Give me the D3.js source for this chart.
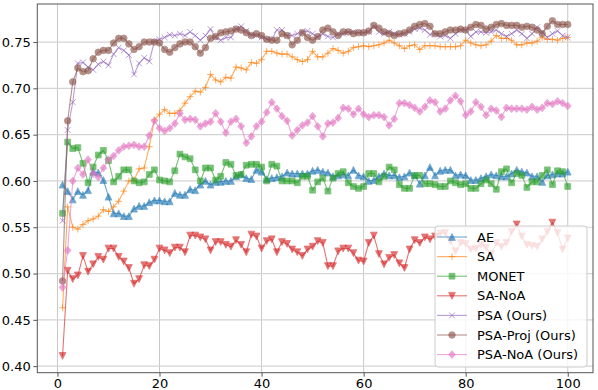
<!DOCTYPE html>
<html><head><meta charset="utf-8">
<script src="https://cdn.jsdelivr.net/npm/d3@7"></script>
<style>
body{margin:0;background:#fff}
svg{display:block}
text{font-family:"DejaVu Sans",sans-serif;fill:#000}
</style>
</head><body>
<svg id="chart" width="598" height="390"></svg>
<script>
const epochs = d3.range(1, 101);
const seriesNames = ["AE", "SA", "MONET", "SA-NoA", "PSA (Ours)", "PSA-Proj (Ours)", "PSA-NoA (Ours)"];
const seriesColors = ["#1f77b4", "#ff7f0e", "#2ca02c", "#d62728", "#9467bd", "#8c564b", "#e377c2"];
const seriesMarkers = ["tri-up", "plus", "square", "tri-down", "x", "circle", "diamond"];

const AE = [0.596,0.589,0.580,0.589,0.585,0.590,0.610,0.609,0.601,0.583,0.565,0.565,0.562,0.562,0.570,0.573,0.573,0.577,0.579,0.579,
0.578,0.578,0.587,0.585,0.585,0.591,0.590,0.596,0.600,0.596,0.599,0.599,0.600,0.600,0.605,0.607,0.603,0.602,0.612,0.610,
0.602,0.603,0.604,0.605,0.609,0.608,0.608,0.608,0.608,0.611,0.612,0.610,0.609,0.605,0.606,0.607,0.606,0.612,0.606,0.605,
0.600,0.601,0.605,0.608,0.606,0.606,0.604,0.605,0.609,0.606,0.597,0.606,0.615,0.606,0.611,0.612,0.612,0.606,0.607,0.606,
0.601,0.601,0.603,0.605,0.607,0.606,0.605,0.605,0.608,0.612,0.610,0.609,0.605,0.605,0.599,0.606,0.607,0.608,0.608,0.610];

const SA = [0.463,0.572,0.550,0.548,0.553,0.557,0.559,0.562,0.569,0.567,0.572,0.578,0.589,0.600,0.601,0.613,0.614,0.637,0.666,0.672,
0.677,0.673,0.673,0.676,0.684,0.691,0.697,0.696,0.701,0.715,0.709,0.707,0.712,0.711,0.723,0.722,0.720,0.728,0.727,0.731,
0.740,0.740,0.738,0.737,0.737,0.734,0.731,0.729,0.731,0.740,0.734,0.734,0.738,0.743,0.741,0.738,0.740,0.744,0.745,0.746,
0.745,0.746,0.747,0.749,0.752,0.749,0.746,0.743,0.746,0.747,0.742,0.746,0.746,0.746,0.745,0.745,0.745,0.745,0.746,0.752,
0.749,0.747,0.746,0.747,0.751,0.757,0.754,0.754,0.752,0.747,0.747,0.749,0.749,0.751,0.755,0.753,0.753,0.752,0.754,0.755];

const MONET = [0.565,0.642,0.635,0.636,0.619,0.598,0.615,0.628,0.633,0.622,0.599,0.605,0.612,0.612,0.600,0.598,0.599,0.607,0.612,0.601,
0.600,0.599,0.611,0.629,0.626,0.624,0.612,0.600,0.614,0.614,0.601,0.605,0.620,0.618,0.606,0.607,0.617,0.618,0.618,0.615,
0.600,0.618,0.616,0.600,0.600,0.600,0.598,0.605,0.605,0.590,0.599,0.603,0.589,0.603,0.608,0.610,0.598,0.594,0.592,0.594,
0.608,0.608,0.599,0.605,0.615,0.612,0.596,0.592,0.592,0.606,0.606,0.597,0.597,0.596,0.594,0.594,0.600,0.598,0.596,0.597,
0.592,0.592,0.597,0.601,0.597,0.591,0.610,0.613,0.598,0.608,0.606,0.593,0.599,0.599,0.606,0.612,0.596,0.611,0.610,0.594];

const SA_NoA = [0.411,0.503,0.494,0.498,0.519,0.502,0.510,0.518,0.515,0.527,0.527,0.518,0.513,0.506,0.489,0.494,0.509,0.508,0.515,0.527,
0.525,0.522,0.528,0.528,0.523,0.541,0.541,0.539,0.537,0.525,0.534,0.534,0.531,0.529,0.536,0.531,0.523,0.542,0.540,0.527,
0.535,0.537,0.523,0.534,0.532,0.526,0.523,0.519,0.526,0.529,0.535,0.533,0.508,0.508,0.524,0.527,0.527,0.522,0.514,0.513,
0.533,0.541,0.521,0.510,0.517,0.520,0.511,0.506,0.526,0.536,0.533,0.539,0.537,0.540,0.543,0.544,0.535,0.524,0.533,0.532,
0.526,0.527,0.531,0.528,0.521,0.533,0.529,0.533,0.545,0.553,0.540,0.531,0.530,0.529,0.537,0.545,0.555,0.544,0.526,0.538];

const PSA = [0.557,0.655,0.685,0.727,0.728,0.723,0.720,0.726,0.729,0.725,0.737,0.744,0.741,0.736,0.715,0.727,0.733,0.729,0.751,0.753,
0.755,0.758,0.757,0.759,0.757,0.761,0.757,0.752,0.757,0.764,0.755,0.752,0.755,0.755,0.764,0.767,0.762,0.758,0.757,0.755,
0.753,0.753,0.763,0.763,0.757,0.757,0.759,0.761,0.762,0.759,0.755,0.759,0.756,0.755,0.759,0.759,0.761,0.761,0.760,0.760,
0.761,0.767,0.761,0.759,0.761,0.759,0.758,0.759,0.761,0.764,0.765,0.763,0.758,0.759,0.756,0.757,0.754,0.759,0.763,0.763,
0.756,0.761,0.761,0.760,0.761,0.763,0.759,0.756,0.759,0.763,0.759,0.754,0.759,0.766,0.761,0.755,0.759,0.762,0.757,0.755];

const PSA_Proj = [0.492,0.665,0.707,0.722,0.718,0.719,0.732,0.739,0.741,0.741,0.749,0.754,0.754,0.748,0.742,0.745,0.750,0.750,0.750,0.749,
0.742,0.739,0.744,0.748,0.750,0.750,0.745,0.738,0.744,0.754,0.756,0.760,0.761,0.762,0.764,0.763,0.760,0.757,0.759,0.757,
0.753,0.752,0.752,0.759,0.757,0.747,0.752,0.760,0.755,0.752,0.756,0.763,0.765,0.761,0.757,0.761,0.761,0.759,0.760,0.760,
0.762,0.768,0.765,0.761,0.759,0.757,0.759,0.760,0.763,0.767,0.769,0.770,0.767,0.759,0.759,0.761,0.763,0.763,0.764,0.763,
0.766,0.769,0.768,0.764,0.766,0.769,0.770,0.768,0.768,0.768,0.766,0.767,0.766,0.763,0.759,0.767,0.773,0.769,0.769,0.769];

const PSA_NoA = [0.485,0.525,0.600,0.614,0.607,0.623,0.608,0.604,0.614,0.623,0.627,0.633,0.637,0.638,0.639,0.637,0.637,0.649,0.665,0.657,
0.654,0.657,0.662,0.673,0.666,0.667,0.666,0.659,0.662,0.664,0.673,0.664,0.652,0.664,0.667,0.659,0.641,0.648,0.659,0.664,
0.674,0.685,0.678,0.670,0.665,0.649,0.655,0.660,0.663,0.670,0.659,0.648,0.662,0.663,0.668,0.679,0.678,0.672,0.678,0.672,
0.669,0.671,0.671,0.669,0.660,0.667,0.684,0.684,0.682,0.679,0.675,0.680,0.687,0.685,0.675,0.678,0.687,0.692,0.686,0.671,
0.675,0.685,0.680,0.671,0.678,0.676,0.669,0.679,0.678,0.678,0.678,0.677,0.680,0.677,0.679,0.684,0.683,0.686,0.684,0.681];

const seriesValues = [AE, SA, MONET, SA_NoA, PSA, PSA_Proj, PSA_NoA];
const xTicks = [0, 20, 40, 60, 80, 100];
const yTicks = [0.40, 0.45, 0.50, 0.55, 0.60, 0.65, 0.70, 0.75];

// ---- layout ----
const W = 598, H = 390;
const plot = {left: 37.3, right: 593, top: 4, bottom: 372.7};
const alpha = 0.65;

function marginDomain(ext) {
  const r = ext[1] - ext[0];
  return [ext[0] - 0.05 * r, ext[1] + 0.05 * r];
}
const allVals = seriesValues.flat();
const x = d3.scaleLinear().domain(marginDomain(d3.extent(epochs))).range([plot.left, plot.right]);
const y = d3.scaleLinear().domain(marginDomain(d3.extent(allVals))).range([plot.bottom, plot.top]);

const svg = d3.select("#chart");
svg.append("rect").attr("width", W).attr("height", H).attr("fill", "#fff");

svg.append("clipPath").attr("id", "clip").append("rect")
  .attr("x", plot.left).attr("y", plot.top)
  .attr("width", plot.right - plot.left).attr("height", plot.bottom - plot.top);

// grid
const grid = svg.append("g");
grid.selectAll("line.gx").data(xTicks).join("line")
  .attr("x1", d => x(d)).attr("x2", d => x(d))
  .attr("y1", plot.top).attr("y2", plot.bottom)
  .attr("stroke", "#c8c8c8").attr("stroke-width", 1);
grid.selectAll("line.gy").data(yTicks).join("line")
  .attr("y1", d => y(d)).attr("y2", d => y(d))
  .attr("x1", plot.left).attr("x2", plot.right)
  .attr("stroke", "#d4d4d4").attr("stroke-width", 1.2);

function markerPath(type, s) {
  switch (type) {
    case "tri-up": return `M0,${-s} L${s},${s} L${-s},${s} Z`;
    case "tri-down": return `M0,${s} L${s},${-s} L${-s},${-s} Z`;
    case "square": return `M${-s},${-s} H${s} V${s} H${-s} Z`;
    case "diamond": return `M0,${-s*1.25} L${s*1.1},0 L0,${s*1.25} L${-s*1.1},0 Z`;
    case "circle": return d3.symbol(d3.symbolCircle, Math.PI * s * s)();
    case "plus": return `M${-s},0 H${s} M0,${-s} V${s}`;
    case "x": return `M${-s},${-s} L${s},${s} M${-s},${s} L${s},${-s}`;
  }
}
const markerSize = {"tri-up": 3.4, "tri-down": 3.4, "square": 2.9, "diamond": 3.1, "circle": 3.3, "plus": 3.4, "x": 2.9};
const strokeOnly = t => t === "plus" || t === "x";

function drawMarker(sel, type, color) {
  sel.attr("d", markerPath(type, markerSize[type]));
  if (strokeOnly(type)) {
    sel.attr("fill", "none").attr("stroke", color).attr("stroke-width", 1);
  } else {
    sel.attr("fill", color).attr("stroke", color).attr("stroke-width", 0.8);
  }
}

const line = d3.line().x((d, i) => x(epochs[i])).y(d => y(d));
const plotG = svg.append("g").attr("clip-path", "url(#clip)");

seriesValues.forEach((vals, si) => {
  const color = seriesColors[si], type = seriesMarkers[si];
  const g = plotG.append("g");
  g.append("path").datum(vals).attr("d", line)
    .attr("fill", "none").attr("stroke", color).attr("stroke-width", 1.1)
    .attr("stroke-opacity", alpha).attr("stroke-linejoin", "round");
  g.selectAll("path.m").data(vals).join("path").attr("class", "m")
    .attr("transform", (d, i) => `translate(${x(epochs[i])},${y(d)})`)
    .attr("opacity", alpha)
    .each(function() { drawMarker(d3.select(this), type, color); });
});

// spines
svg.append("rect").attr("x", plot.left).attr("y", plot.top)
  .attr("width", plot.right - plot.left).attr("height", plot.bottom - plot.top)
  .attr("fill", "none").attr("stroke", "#555").attr("stroke-width", 1);

// axes
const xAxis = d3.axisBottom(x).tickValues(xTicks).tickFormat(d3.format("d")).tickSize(4).tickPadding(2.5);
const yAxis = d3.axisLeft(y).tickValues(yTicks).tickFormat(d3.format(".2f")).tickSize(4).tickPadding(2.5);
const gx = svg.append("g").attr("transform", `translate(0,${plot.bottom})`).call(xAxis);
const gy = svg.append("g").attr("transform", `translate(${plot.left},0)`).call(yAxis);
[gx, gy].forEach(g => {
  g.select(".domain").remove();
  g.selectAll(".tick line").attr("stroke", "#555");
  g.selectAll(".tick text").attr("font-size", 13).attr("font-family", "DejaVu Sans").attr("fill", "#000");
});

// legend
const lg = svg.append("g");
const lx = 435, ly = 226, lw = 152, lh = 141, rowH = 19.6, row0 = 237;
lg.append("rect").attr("x", lx).attr("y", ly).attr("width", lw).attr("height", lh)
  .attr("rx", 3).attr("fill", "#fff").attr("fill-opacity", 0.8)
  .attr("stroke", "#cccccc").attr("stroke-width", 1);
seriesNames.forEach((name, si) => {
  const cy = row0 + si * rowH;
  const color = seriesColors[si], type = seriesMarkers[si];
  lg.append("line").attr("x1", lx + 2).attr("x2", lx + 32).attr("y1", cy).attr("y2", cy)
    .attr("stroke", color).attr("stroke-width", 1.1).attr("stroke-opacity", alpha);
  const m = lg.append("path").attr("transform", `translate(${lx + 17},${cy})`).attr("opacity", alpha);
  drawMarker(m, type, color);
  lg.append("text").attr("x", lx + 42).attr("y", cy).attr("dy", "0.36em")
    .attr("font-size", 13).text(name);
});
</script>
</body></html>
